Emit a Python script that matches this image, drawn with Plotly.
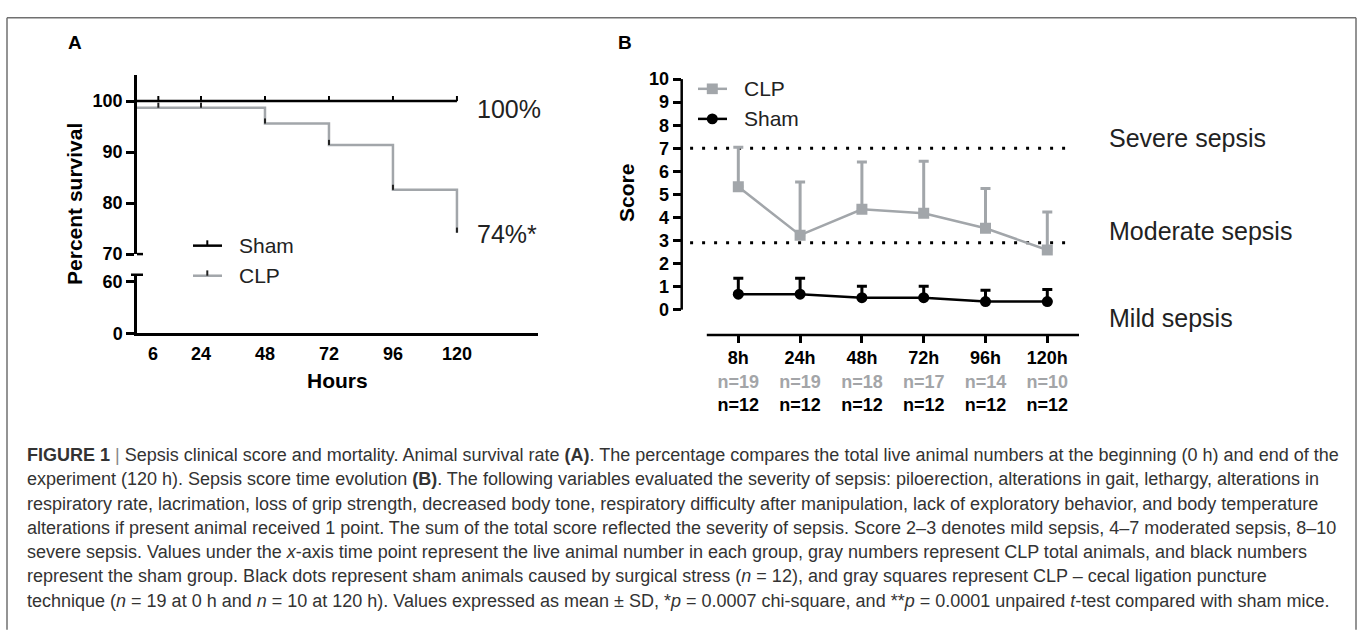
import plotly.graph_objects as go

W, H = 1358, 631


def px(x):
    return x / W


def py(y):
    return 1 - y / H


# ---------------- Panel A data (Kaplan-Meier survival) ----------------
hour_ticks = [6, 24, 48, 72, 96, 120]
sham_times = [0, 120]
sham_surv = [100, 100]
sham_censor_times = [8, 24, 48, 72, 96, 120]
sham_censor_surv = [100, 100, 100, 100, 100, 100]
clp_times = [0, 48, 72, 96, 120]
clp_surv = [98.7, 95.6, 91.4, 82.6, 74.2]
clp_censor_times = [8, 24, 48, 72, 96, 120]
clp_censor_surv = [98.7, 98.7, 95.6, 91.4, 82.6, 74.2]
upper_ticks = [70, 80, 90, 100]
lower_ticks = [0, 60]

# ---------------- Panel B data (sepsis score) ----------------
time_labels = ["8h", "24h", "48h", "72h", "96h", "120h"]
clp_n = [19, 19, 18, 17, 14, 10]
sham_n = [12, 12, 12, 12, 12, 12]
clp_score = [5.33, 3.23, 4.35, 4.18, 3.53, 2.59]
clp_sd = [1.71, 2.31, 2.06, 2.26, 1.73, 1.65]
sham_score = [0.67, 0.67, 0.52, 0.52, 0.35, 0.35]
sham_sd = [0.69, 0.69, 0.50, 0.50, 0.49, 0.52]
severity_cutoffs = [7, 2.9]
severity_labels = ["Severe sepsis", "Moderate sepsis", "Mild sepsis"]
score_ticks = list(range(0, 11))

GRAY = "#a2a6aa"
NGRAY = "#a3a5a8"
FONT = "Liberation Sans, Arial, Helvetica, sans-serif"
CAPFONT = "Liberation Sans, Arial, sans-serif"
LW = 2.5

fig = go.Figure()

# ---- Panel A traces ----
fig.add_trace(go.Scatter(x=clp_times, y=clp_surv, mode="lines", line=dict(color=GRAY, width=LW, shape="hv"),
                         xaxis="x", yaxis="y", showlegend=False, hoverinfo="skip"))
fig.add_trace(go.Scatter(x=sham_times, y=sham_surv, mode="lines", line=dict(color="black", width=LW, shape="hv"),
                         xaxis="x", yaxis="y", showlegend=False, hoverinfo="skip"))
for t, s, c in [(sham_censor_times, sham_censor_surv, "black"), (clp_censor_times, clp_censor_surv, "#222222")]:
    fig.add_trace(go.Scatter(x=t, y=s, mode="markers", marker=dict(size=1, color="rgba(0,0,0,0)"),
                             error_y=dict(type="constant", value=1.0, symmetric=False, valueminus=0,
                                          color=c, thickness=2, width=0),
                             xaxis="x", yaxis="y", showlegend=False, hoverinfo="skip"))
# empty trace so that the lower (broken) y segment subplot exists
fig.add_trace(go.Scatter(x=[None], y=[None], mode="lines", xaxis="x", yaxis="y2",
                         showlegend=False, hoverinfo="skip"))

# ---- Panel B traces ----
xb = list(range(len(time_labels)))
fig.add_trace(go.Scatter(x=xb, y=clp_score, mode="lines+markers",
                         line=dict(color=GRAY, width=LW),
                         marker=dict(symbol="square", size=11, color=GRAY),
                         error_y=dict(type="data", array=clp_sd, symmetric=False, arrayminus=[0] * 6,
                                      color=GRAY, thickness=3, width=5),
                         xaxis="x2", yaxis="y3", showlegend=False, hoverinfo="skip"))
fig.add_trace(go.Scatter(x=xb, y=sham_score, mode="lines+markers",
                         line=dict(color="black", width=LW),
                         marker=dict(symbol="circle", size=11, color="black"),
                         error_y=dict(type="data", array=sham_sd, symmetric=False, arrayminus=[0] * 6,
                                      color="black", thickness=3, width=5),
                         xaxis="x2", yaxis="y3", showlegend=False, hoverinfo="skip"))

tickfont = dict(family=FONT, size=18, color="black", weight="bold")

b_ticktext = [f"<b>{t}</b><br><span style='color:{NGRAY}'><b>n={c}</b></span><br><b>n={s}</b>"
              for t, c, s in zip(time_labels, clp_n, sham_n)]

fig.update_layout(
    width=W, height=H, autosize=False,
    margin=dict(l=0, r=0, t=0, b=0),
    paper_bgcolor="white", plot_bgcolor="rgba(0,0,0,0)",
    font=dict(family=FONT, color="black"),
    xaxis=dict(domain=[px(137), px(538)], range=[0, 150.4], anchor="y2",
               showline=True, linewidth=LW, linecolor="black", ticks="",
               tickvals=hour_ticks, ticktext=[str(h) for h in hour_ticks], tickfont=tickfont,
               ticklabelstandoff=2, showgrid=False, zeroline=False),
    yaxis=dict(domain=[py(252.7), py(68)], range=[70, 105.13], anchor="x",
               showline=True, linewidth=LW, linecolor="black", ticks="outside", ticklen=8,
               tickwidth=LW, tickcolor="black", tickvals=upper_ticks, tickfont=tickfont,
               showgrid=False, zeroline=False),
    yaxis2=dict(domain=[py(334.3), py(274)], range=[0, 67.5], anchor="x",
                showline=True, linewidth=LW, linecolor="black", ticks="outside", ticklen=8,
                tickwidth=LW, tickcolor="black", tickvals=lower_ticks, tickfont=tickfont,
                showgrid=False, zeroline=False),
    xaxis2=dict(domain=[px(681.7), px(1079)], range=[-0.916, 5.513], anchor="y3",
                showline=False, ticks="outside", ticklen=7, tickwidth=LW, tickcolor="black",
                tickvals=xb, ticktext=b_ticktext, tickfont=tickfont,
                showgrid=False, zeroline=False),
    yaxis3=dict(domain=[py(336), py(71.1)], range=[-1.094, 10.05], anchor="x2",
                showline=False, ticks="outside", ticklen=8, tickwidth=LW, tickcolor="black",
                tickvals=score_ticks, tickfont=tickfont, showgrid=False, zeroline=False),
)

shapes = []
# frame
fc = "#707070"
shapes.append(dict(type="line", xref="paper", yref="paper", x0=px(7), x1=px(1356), y0=py(9), y1=py(9),
                   line=dict(color=fc, width=1.5)))
shapes.append(dict(type="line", xref="paper", yref="paper", x0=px(7), x1=px(7), y0=py(9), y1=py(640),
                   line=dict(color=fc, width=1.5)))
shapes.append(dict(type="line", xref="paper", yref="paper", x0=px(1356), x1=px(1356), y0=py(9), y1=py(640),
                   line=dict(color=fc, width=1.5)))
# axis break caps (panel A)
shapes.append(dict(type="line", xref="paper", yref="paper", x0=px(137), x1=px(143), y0=py(252.7), y1=py(252.7),
                   line=dict(color="black", width=LW)))
shapes.append(dict(type="line", xref="paper", yref="paper", x0=px(131), x1=px(143), y0=py(274), y1=py(274),
                   line=dict(color="black", width=LW)))
# panel B axis lines
shapes.append(dict(type="line", xref="x2 domain", yref="y3", x0=0, x1=0, y0=0, y1=10,
                   line=dict(color="black", width=LW)))
shapes.append(dict(type="line", xref="x2", yref="y3 domain", x0=-0.51, x1=5.513, y0=0, y1=0,
                   line=dict(color="black", width=LW)))
# severity cut-off dotted lines
for v in severity_cutoffs:
    shapes.append(dict(type="line", xref="x2", yref="y3", x0=-0.78, x1=5.39, y0=v, y1=v, layer="below",
                       line=dict(color="black", width=3, dash="3px,9px")))
# legend A
for yy, col in [(244, "black"), (275, GRAY)]:
    shapes.append(dict(type="line", xref="paper", yref="paper", x0=px(193), x1=px(222), y0=py(yy), y1=py(yy),
                       line=dict(color=col, width=LW)))
    shapes.append(dict(type="line", xref="paper", yref="paper", x0=px(207.3), x1=px(207.3), y0=py(yy), y1=py(yy - 5.5),
                       line=dict(color="black" if col == "black" else "#222222", width=2)))
# legend B
shapes.append(dict(type="line", xref="paper", yref="paper", x0=px(698), x1=px(727), y0=py(82.3), y1=py(82.3),
                   line=dict(color=GRAY, width=LW)))
shapes.append(dict(type="rect", xref="paper", yref="paper", x0=px(712.3 - 5.5), x1=px(712.3 + 5.5),
                   y0=py(82.3 - 5.5), y1=py(82.3 + 5.5), line=dict(width=0), fillcolor=GRAY))
shapes.append(dict(type="line", xref="paper", yref="paper", x0=px(698), x1=px(727), y0=py(113.3), y1=py(113.3),
                   line=dict(color="black", width=LW)))
shapes.append(dict(type="circle", xref="paper", yref="paper", x0=px(712.3 - 5.5), x1=px(712.3 + 5.5),
                   y0=py(113.3 - 5.5), y1=py(113.3 + 5.5), line=dict(width=0), fillcolor="black"))
fig.update_layout(shapes=shapes)

ann = []


def text(x, y, s, size, bold=False, xanchor="left", angle=0, color="black", family=FONT):
    ann.append(dict(x=px(x), y=py(y), xref="paper", yref="paper", text=s, showarrow=False,
                    xanchor=xanchor, yanchor="middle", textangle=angle,
                    font=dict(family=family, size=size, color=color, weight="bold" if bold else "normal")))


text(75, 35, "A", 19, bold=True, xanchor="center")
text(625, 35, "B", 19, bold=True, xanchor="center")
text(75, 201, "Percent survival", 21, bold=True, xanchor="center", angle=-90)
text(337, 383, "Hours", 21, bold=True, xanchor="center")
text(475, 103, "100%", 25, color="#222222")
text(475, 232, "74%*", 25, color="#222222")
text(237, 244, "Sham", 21, color="#222222")
text(237, 275, "CLP", 21, color="#222222")
text(626.7, 190, "Score", 21, bold=True, xanchor="center", angle=-90)
text(742, 82.3, "CLP", 21, color="#222222")
text(742, 113.3, "Sham", 21, color="#222222")
for lab, yy in zip(severity_labels, [133, 229.3, 318.3]):
    text(1107, yy, lab, 25, color="#222222")

caption_lines = [
    "<b>FIGURE 1</b> <span style='color:#888'>|</span> Sepsis clinical score and mortality. Animal survival rate <b>(A)</b>. The percentage compares the total live animal numbers at the beginning (0 h) and end of the",
    "experiment (120 h). Sepsis score time evolution <b>(B)</b>. The following variables evaluated the severity of sepsis: piloerection, alterations in gait, lethargy, alterations in",
    "respiratory rate, lacrimation, loss of grip strength, decreased body tone, respiratory difficulty after manipulation, lack of exploratory behavior, and body temperature",
    "alterations if present animal received 1 point. The sum of the total score reflected the severity of sepsis. Score 2–3 denotes mild sepsis, 4–7 moderated sepsis, 8–10",
    "severe sepsis. Values under the <i>x</i>-axis time point represent the live animal number in each group, gray numbers represent CLP total animals, and black numbers",
    "represent the sham group. Black dots represent sham animals caused by surgical stress (<i>n</i> = 12), and gray squares represent CLP – cecal ligation puncture",
    "technique (<i>n</i> = 19 at 0 h and <i>n</i> = 10 at 120 h). Values expressed as mean ± SD, *<i>p</i> = 0.0007 chi-square, and **<i>p</i> = 0.0001 unpaired <i>t</i>-test compared with sham mice.",
]
for i, line in enumerate(caption_lines):
    text(25, 460 + i * 25, line, 18, color="#333333", family=CAPFONT)

fig.update_layout(annotations=ann)

fig.write_html("out.html", include_plotlyjs=True, config={"displayModeBar": False},
               post_script="document.body.style.margin='0';document.body.style.overflow='hidden';")
